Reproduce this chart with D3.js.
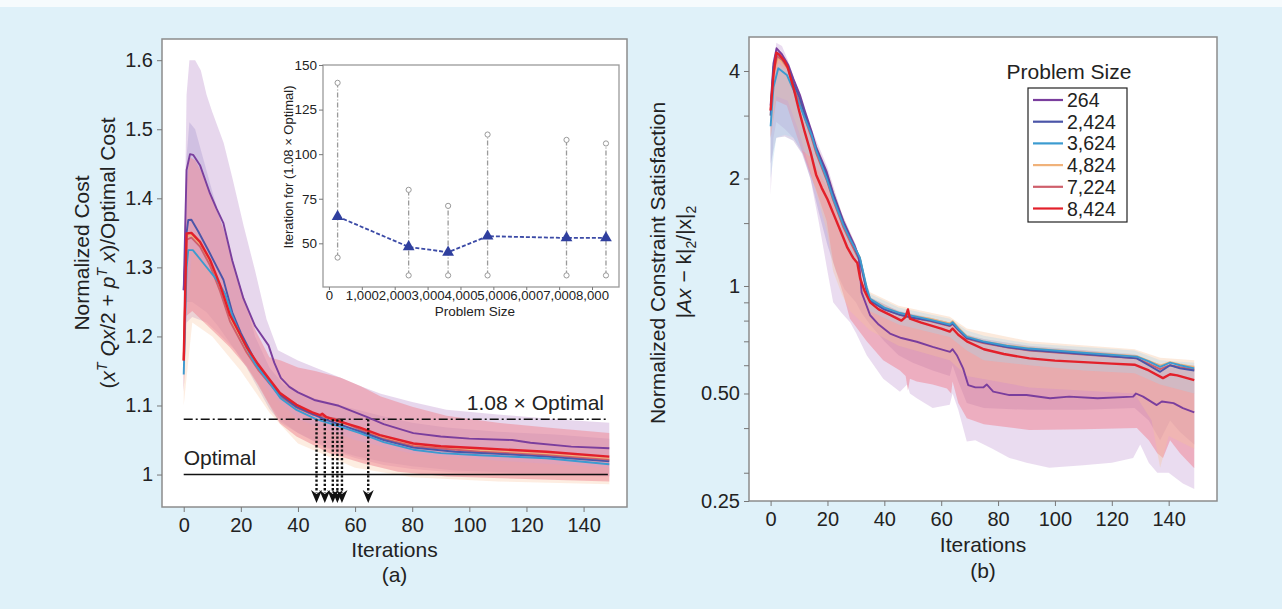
<!DOCTYPE html>
<html><head><meta charset="utf-8">
<script src="https://cdn.jsdelivr.net/npm/d3@7"></script>
<style>body{margin:0;background:#dff1f9;} svg{display:block;font-family:"Liberation Sans",Arial,Helvetica,sans-serif;}</style>
</head><body><svg id="c" width="1282" height="609"></svg>
<script>
// ---------- DATA ----------
const sizeLabels = ["264","2,424","3,624","4,824","7,224","8,424"];
const sizeValues = [264,2424,3624,4824,7224,8424];
const seriesColors = ["#7a3e9d","#4b55a8","#3c9bd0","#f0b27a","#cf5f6b","#e3202a"];

const iterTicks = [0,20,40,60,80,100,120,140];
const costTicks = [1,1.1,1.2,1.3,1.4,1.5,1.6];
const consTicks = [0.25,0.5,1,2,4];
const consTickLabels = ["0.25","0.50","1","2","4"];
const consMinorTicks = [3,1.5,0.9,0.8,0.7,0.6,0.4,0.3];
const optimalLevel = 1.0;
const thresholdLevel = 1.08;
const crossIters = [46.5,49.4,52.2,53.8,55.4,64.6];

// inset
const insetMean = [65,48,45,54,53,53];
const insetMax = [140,80,71,111,108,106];
const insetMin = [42,32,32,32,32,32];
const insetXTicks = [0,1000,2000,3000,4000,5000,6000,7000,8000];
const insetYTicks = [50,75,100,125,150];

// (a) normalized cost means [iteration, value]
const cost264 = [[0,1.267],[1,1.441],[2.2,1.464],[3.3,1.463],[5.7,1.448],[9.2,1.407],[11.5,1.385],[13.9,1.364],[17,1.31],[20.9,1.255],[25,1.215],[29.7,1.187],[31.7,1.162],[34,1.14],[37,1.127],[40,1.119],[45.7,1.108],[54.3,1.0996],[64.3,1.083],[70,1.073],[80.4,1.06],[90,1.055],[100,1.052],[115,1.05],[121.4,1.046],[135.7,1.0405],[149,1.038]];
const cost2424 = [[0,1.267],[1,1.35],[1.6,1.3686],[2.7,1.369],[5.1,1.352],[9.2,1.32],[13.9,1.282],[17,1.235],[20,1.205],[25,1.165],[30,1.133],[34,1.115],[39.5,1.098],[45,1.088],[49.4,1.08],[55,1.072],[62,1.062],[70,1.05],[80.4,1.039],[95,1.033],[110,1.03],[127,1.026],[149,1.019]];
const cost3624 = [[0,1.145],[1,1.30],[1.6,1.325],[3.2,1.325],[6.9,1.306],[11.6,1.282],[14.5,1.262],[17,1.23],[20,1.2],[25,1.16],[30.2,1.132],[34,1.11],[39.5,1.0935],[46.5,1.08],[52,1.073],[61.7,1.06],[70,1.047],[80.4,1.036],[90,1.031],[103.7,1.028],[127,1.0236],[149,1.015]];
const cost4824 = [[0,1.165],[1,1.345],[2.7,1.347],[5.7,1.333],[9.2,1.307],[12.7,1.27],[16.2,1.226],[22,1.18],[26,1.155],[30.2,1.134],[33.7,1.115],[39.5,1.099],[45,1.088],[52,1.08],[61.7,1.066],[68.7,1.054],[80.4,1.042],[103.7,1.035],[127,1.03],[149,1.023]];
const cost7224 = [[0,1.165],[1,1.34],[2.7,1.343],[5.7,1.33],[9.2,1.303],[12.7,1.266],[16.2,1.222],[22,1.177],[26,1.152],[30.2,1.131],[33.7,1.113],[39.5,1.097],[45,1.087],[53.8,1.08],[61.7,1.065],[68.7,1.053],[80.4,1.041],[103.7,1.033],[127,1.028],[149,1.021]];
const cost8424 = [[0,1.165],[1,1.349],[2.7,1.35],[5.7,1.337],[9.2,1.311],[12.7,1.275],[16.2,1.231],[22,1.185],[26,1.16],[30.2,1.137],[33.7,1.118],[39.5,1.101],[45,1.09],[47.7,1.086],[48.5,1.088],[50,1.083],[54.7,1.0766],[61.7,1.068],[68.7,1.057],[80.4,1.045],[90,1.041],[103.7,1.038],[127,1.033],[149,1.026]];

// (a) bands
const costBand264Upper = [[0,1.27],[1,1.55],[2,1.60],[4,1.60],[6,1.585],[8,1.55],[10,1.525],[14,1.48],[17,1.43],[21,1.36],[25,1.295],[29,1.225],[33,1.18],[40,1.165],[46,1.155],[55,1.14],[62,1.128],[69,1.117],[80,1.105],[92,1.094],[110,1.087],[130,1.08],[149,1.075]];
const costBand264Lower = [[0,1.12],[1,1.22],[3,1.228],[8,1.22],[12,1.205],[18,1.18],[22,1.158],[26,1.132],[30,1.102],[34,1.078],[40,1.06],[50,1.038],[60,1.024],[70,1.014],[80,1.008],[95,1.003],[120,1.0],[149,0.997]];
const costBand2424Upper = [[0,1.27],[1,1.46],[2,1.51],[4,1.50],[6,1.47],[10,1.41],[14,1.355],[17,1.31],[20,1.27],[25,1.2],[30,1.155],[35,1.13],[40,1.12],[46,1.11],[55,1.1],[69,1.085],[80,1.075],[92,1.068],[110,1.062],[130,1.058],[149,1.052]];
const costBand2424Lower = [[0,1.2],[1,1.25],[3,1.25],[8,1.235],[12,1.215],[18,1.18],[22,1.155],[26,1.125],[30,1.095],[34,1.075],[40,1.06],[50,1.04],[60,1.027],[70,1.018],[80,1.012],[95,1.006],[120,1.002],[149,0.998]];
const costBand8424Upper = [[0,1.17],[1,1.42],[2,1.46],[4,1.455],[6,1.44],[10,1.40],[14,1.355],[20,1.27],[25,1.21],[30,1.17],[34,1.165],[40,1.155],[46,1.15],[55,1.14],[62,1.128],[69,1.113],[80,1.098],[92,1.085],[110,1.075],[130,1.067],[149,1.06]];
const costBand8424Lower = [[0,1.12],[1,1.23],[3,1.237],[10,1.209],[16,1.185],[22,1.156],[26,1.13],[29,1.108],[33.7,1.074],[39.5,1.055],[51,1.031],[63,1.016],[75,1.004],[92,0.997],[149,0.99]];
const costBand4824Upper = [[0,1.16],[3,1.33],[10,1.29],[20,1.19],[30,1.12],[40,1.08],[60,1.05],[80,1.03],[110,1.02],[149,1.01]];
const costBand4824Lower = [[0,1.10],[3,1.22],[10,1.20],[20,1.15],[30,1.09],[40,1.045],[60,1.01],[80,0.996],[110,0.99],[149,0.986]];

// (b) constraint satisfaction means
const cons264 = [[0,3.2],[1,4.2],[2.1,4.63],[4,4.45],[6.2,4.16],[8,3.8],[10.3,3.43],[12,3.1],[14.4,2.71],[16,2.45],[19.7,2.09],[22,1.82],[25.6,1.52],[28,1.38],[29.5,1.3],[30.3,1.25],[31,1.2],[32,0.96],[35,0.828],[38,0.78],[42,0.736],[46,0.715],[51.4,0.698],[57,0.675],[63.1,0.654],[64,0.665],[65.5,0.64],[67.7,0.588],[69.5,0.528],[72,0.52],[74.8,0.52],[76,0.53],[78.3,0.506],[84,0.495],[90,0.495],[98.3,0.485],[105,0.49],[115,0.485],[127.5,0.49],[128.5,0.5],[131,0.49],[135.8,0.464],[137.6,0.475],[141.7,0.47],[145,0.455],[149,0.443]];
const cons2424 = [[0,3.0],[1,4.1],[2.3,4.5],[4,4.35],[6.2,4.1],[8,3.7],[10.3,3.35],[12,3.02],[14.4,2.66],[16,2.42],[19.7,2.05],[22,1.8],[25.6,1.5],[28,1.36],[30.3,1.24],[31.4,1.19],[33.8,0.97],[35,0.91],[40,0.86],[45.5,0.83],[50,0.815],[56,0.8],[63,0.775],[64,0.785],[66,0.755],[69,0.715],[74.8,0.695],[83,0.675],[91,0.662],[110,0.645],[128.8,0.627],[133,0.6],[137,0.575],[140.5,0.6],[144,0.588],[149,0.58]];
const cons3624 = [[0,2.8],[1,3.6],[2.7,4.07],[5.7,3.9],[8,3.55],[10.3,3.2],[12,2.95],[14.4,2.65],[16,2.4],[19.7,2.0],[22,1.76],[25.6,1.48],[28,1.35],[30.3,1.25],[31.4,1.2],[33.8,0.99],[35,0.92],[40,0.87],[45.5,0.84],[50,0.825],[56,0.805],[63,0.78],[64,0.792],[66,0.76],[69,0.72],[74.8,0.70],[83,0.68],[91,0.668],[110,0.65],[128.8,0.634],[133,0.615],[137,0.594],[140.5,0.61],[144,0.6],[149,0.588]];
const cons4824 = [[0,3.0],[1,3.9],[2.5,4.35],[4,4.25],[6.2,4.05],[8,3.65],[10.3,3.3],[12,3.0],[14.4,2.66],[16,2.42],[19.7,2.04],[22,1.79],[25.6,1.5],[28,1.36],[30.3,1.25],[31.4,1.2],[33.8,0.98],[35,0.92],[40,0.87],[45.5,0.84],[50,0.825],[56,0.81],[63,0.785],[64,0.797],[66,0.765],[69,0.722],[74.8,0.70],[83,0.682],[91,0.67],[110,0.652],[128.8,0.636],[133,0.617],[137,0.598],[140.5,0.612],[144,0.603],[149,0.592]];
const cons7224 = [[0,3.1],[1,3.95],[2.3,4.4],[4,4.3],[6.2,4.05],[8,3.6],[10.3,3.25],[12,2.95],[14.4,2.6],[16,2.36],[19.7,1.98],[22,1.74],[25.6,1.46],[28,1.33],[30.3,1.22],[31.4,1.17],[33.8,0.97],[35,0.91],[40,0.86],[45.5,0.83],[50,0.815],[56,0.798],[63,0.772],[64,0.783],[66,0.752],[69,0.712],[74.8,0.692],[83,0.673],[91,0.66],[110,0.643],[128.8,0.627],[133,0.605],[137,0.585],[140.5,0.6],[144,0.592],[149,0.583]];
const cons8424 = [[0,3.1],[1,3.9],[2,4.5],[3,4.45],[5,4.25],[6,4.1],[8,3.6],[10,3.1],[12,2.7],[14,2.38],[16,2.05],[18,1.88],[20,1.75],[22,1.6],[25,1.4],[27,1.28],[29,1.2],[30.5,1.16],[31.5,1.05],[33,0.97],[35,0.9],[38,0.86],[42,0.83],[46,0.80],[47.5,0.82],[48.3,0.86],[49,0.81],[53,0.79],[60,0.76],[63,0.745],[64,0.76],[66,0.73],[69,0.70],[75,0.665],[82,0.645],[91,0.627],[100,0.618],[110,0.612],[120,0.606],[128,0.602],[133,0.58],[138,0.552],[140.5,0.566],[143,0.562],[149,0.545]];

// (b) bands
const consBand264Upper = [[0,3.5],[2,4.8],[4,4.7],[6,4.3],[10,3.5],[14,2.8],[20,2.15],[25,1.6],[30,1.3],[32,1.1],[35,0.92],[40,0.88],[46,0.85],[55,0.82],[63,0.79],[66,0.77],[69,0.73],[75,0.71],[90,0.68],[110,0.66],[128,0.64],[135,0.61],[140,0.6],[149,0.59]];
const consBand264Lower = [[0,1.8],[1,2.6],[2,2.88],[5,2.75],[8,2.6],[11.4,2.34],[14,2.0],[17,1.5],[20,1.1],[22,0.9],[25,0.84],[28,0.79],[30,0.74],[33.8,0.64],[39.6,0.55],[45.5,0.506],[48,0.53],[49,0.5],[51.4,0.485],[57,0.455],[63,0.465],[64,0.5],[66,0.45],[69,0.367],[72,0.37],[75,0.36],[78,0.35],[84,0.33],[90,0.32],[98,0.31],[110,0.315],[120,0.32],[127.5,0.33],[130,0.36],[133,0.32],[136,0.30],[140,0.3],[145,0.28],[149,0.27]];
const consBand2424Upper = [[0,3.0],[2,4.55],[4,4.4],[6.2,4.15],[10.3,3.4],[14.4,2.7],[19.7,2.08],[25.6,1.52],[30.3,1.26],[32,1.02],[35,0.93],[45,0.85],[63,0.79],[69,0.73],[75,0.71],[91,0.68],[128,0.645],[137,0.59],[149,0.59]];
const consBand2424Lower = [[0,2.2],[2,2.6],[5,2.62],[8,2.55],[11,2.35],[14,2.0],[17,1.6],[20,1.3],[23,1.1],[26,0.98],[30,0.9],[32,0.84],[35,0.78],[40,0.70],[45,0.64],[50,0.61],[57,0.58],[63,0.56],[64,0.6],[66,0.54],[69,0.47],[75,0.455],[91,0.45],[110,0.45],[128,0.455],[133,0.42],[137,0.37],[140.5,0.42],[144,0.39],[149,0.36]];
const consBand8424Upper = [[0,3.3],[2,4.6],[4,4.5],[6,4.25],[10,3.3],[14,2.6],[20,1.9],[25,1.5],[30,1.22],[32,1.0],[35,0.93],[45,0.85],[63,0.79],[69,0.73],[75,0.70],[91,0.67],[110,0.66],[128,0.64],[138,0.6],[149,0.6]];
const consBand8424Lower = [[0,2.6],[2,3.3],[5.7,3.2],[10.3,2.48],[16.2,1.84],[19.7,1.52],[22,1.17],[25.6,0.946],[27.9,0.81],[33.8,0.70],[39.6,0.62],[45.5,0.58],[47.5,0.56],[48.3,0.51],[49,0.55],[51.4,0.54],[57,0.53],[62,0.516],[63.5,0.50],[64,0.54],[66,0.47],[69,0.426],[75,0.41],[91,0.395],[110,0.397],[128.8,0.40],[133,0.37],[136,0.34],[138,0.33],[140.5,0.37],[144,0.34],[149,0.309]];
const consBand4824Upper = [[0,3.2],[2,4.5],[6,4.2],[10,3.4],[14,2.75],[20,2.1],[25,1.6],[30,1.3],[32,1.1],[35,0.96],[45,0.88],[63,0.82],[69,0.76],[91,0.70],[128,0.665],[137,0.63],[149,0.62]];
const consBand4824Lower = [[0,2.6],[2,3.4],[6,3.3],[10,2.7],[14,2.1],[18,1.6],[20,1.4],[22,1.1],[25,0.95],[28,0.85],[35,0.75],[45,0.68],[63,0.62],[69,0.56],[91,0.52],[128,0.5],[134,0.42],[137,0.31],[140,0.38],[149,0.35]];
const consBand3624Upper = [[0,3.0],[2.7,4.2],[6,4.0],[10.3,3.3],[14.4,2.72],[19.7,2.05],[25.6,1.52],[30,1.3],[33,1.05],[35,0.95],[45,0.87],[63,0.81],[69,0.75],[75,0.725],[91,0.69],[110,0.675],[128,0.66],[137,0.62],[149,0.61]];
const consBand3624Lower = [[0,2.0],[2,2.6],[5,2.65],[8,2.6],[11,2.4],[14,2.3],[19.7,1.9],[25.6,1.4],[30,1.15],[35,0.85],[45,0.78],[63,0.72],[69,0.66],[75,0.62],[91,0.6],[110,0.58],[128,0.57],[137,0.53],[149,0.5]];

// ---------- DRAW ----------
const svg = d3.select("#c");
svg.append("rect").attr("width",1282).attr("height",609).attr("fill","#dff1f9");
svg.append("rect").attr("width",1282).attr("height",7).attr("fill","#f6fbfd");

const FONT = "'Liberation Sans',Arial,Helvetica,sans-serif";
function band(g, x, y, up, lo, fill, op){
  const line = d3.line().x(d=>x(d[0])).y(d=>y(d[1]));
  g.append("path").attr("d", line(up.concat(lo.slice().reverse()))+"Z")
    .attr("fill",fill).attr("fill-opacity",op).attr("stroke","none");
}
function series(g, x, y, data, color, w){
  const line = d3.line().x(d=>x(d[0])).y(d=>y(d[1]));
  g.append("path").attr("d", line(data)).attr("fill","none")
    .attr("stroke",color).attr("stroke-width",w).attr("stroke-linejoin","round");
}
function styleAxis(g, fs){
  g.select(".domain").remove();
  g.selectAll(".tick line").attr("stroke","#777").attr("stroke-width",1);
  g.selectAll(".tick text").attr("fill","#222").style("font-size",fs+"px").style("font-family",FONT);
}

// ===== Panel (a) =====
const A = {x0:162,x1:627,y0:39,y1:507};
const xA = d3.scaleLinear().domain([-7.6,155.2]).range([A.x0,A.x1]);
const yA = d3.scaleLinear().domain([0.953,1.6307]).range([A.y1,A.y0]);
svg.append("rect").attr("x",A.x0).attr("y",A.y0).attr("width",A.x1-A.x0).attr("height",A.y1-A.y0)
  .attr("fill","#fff").attr("stroke","#8c8c8c").attr("stroke-width",1.5);
svg.append("clipPath").attr("id","clipA").append("rect").attr("x",A.x0).attr("y",A.y0).attr("width",A.x1-A.x0).attr("height",A.y1-A.y0);
const gA = svg.append("g").attr("clip-path","url(#clipA)");
band(gA,xA,yA,costBand264Upper,costBand264Lower,"#d7bde1",0.6);
band(gA,xA,yA,costBand2424Upper,costBand2424Lower,"#b09ed2",0.4);
band(gA,xA,yA,costBand4824Upper,costBand4824Lower,"#f8c39c",0.3);
band(gA,xA,yA,costBand8424Upper,costBand8424Lower,"#f0848f",0.5);

// reference lines
gA.append("line").attr("x1",xA(0)).attr("x2",xA(148.5)).attr("y1",yA(thresholdLevel)).attr("y2",yA(thresholdLevel))
  .attr("stroke","#111").attr("stroke-width",1.5).attr("stroke-dasharray","9,3,2,3");
gA.append("line").attr("x1",xA(0)).attr("x2",xA(148.5)).attr("y1",yA(optimalLevel)).attr("y2",yA(optimalLevel))
  .attr("stroke","#111").attr("stroke-width",1.6);

const costSeries = [cost4824,cost7224,cost2424,cost3624,cost264,cost8424];
const costColors = [seriesColors[3],seriesColors[4],seriesColors[1],seriesColors[2],seriesColors[0],seriesColors[5]];
costSeries.forEach((s,i)=>series(gA,xA,yA,s,costColors[i], i===5?2.4:1.9));

// arrows
crossIters.forEach(c=>{
  const x = xA(c);
  gA.append("line").attr("x1",x).attr("x2",x).attr("y1",yA(thresholdLevel)).attr("y2",493)
    .attr("stroke","#111").attr("stroke-width",2.4).attr("stroke-dasharray","2.3,2");
  gA.append("path").attr("d",`M${x},503 L${x-5.5},490 L${x},494 L${x+5.5},490 Z`).attr("fill","#111");
});

svg.append("text").attr("x",604).attr("y",410).attr("text-anchor","end").style("font-size","21px").attr("fill","#222").text("1.08 × Optimal");
svg.append("text").attr("x",xA(0)).attr("y",465).style("font-size","21px").attr("fill","#222").text("Optimal");

const axYA = svg.append("g").attr("transform",`translate(${A.x0},0)`)
  .call(d3.axisLeft(yA).tickValues(costTicks).tickFormat(d=>d===1?"1":d3.format(".1f")(d)).tickSize(5).tickPadding(4));
styleAxis(axYA,20);
const axXA = svg.append("g").attr("transform",`translate(0,${A.y1})`)
  .call(d3.axisBottom(xA).tickValues(iterTicks).tickSize(5).tickPadding(6));
styleAxis(axXA,20);

svg.append("text").attr("x",(A.x0+A.x1)/2).attr("y",557).attr("text-anchor","middle").style("font-size","21px").attr("fill","#222").text("Iterations");
svg.append("text").attr("x",(A.x0+A.x1)/2).attr("y",582).attr("text-anchor","middle").style("font-size","21px").attr("fill","#222").text("(a)");

svg.append("text").attr("transform","translate(89,253) rotate(-90)").attr("text-anchor","middle")
  .style("font-size","21px").attr("fill","#222").text("Normalized Cost");
const ytA2 = svg.append("text").attr("transform","translate(115,253) rotate(-90)").attr("text-anchor","middle")
  .style("font-size","21px").attr("fill","#222");
ytA2.append("tspan").text("(");
ytA2.append("tspan").style("font-style","italic").text("x");
ytA2.append("tspan").attr("dy",-8).style("font-size","14px").style("font-style","italic").text("T");
ytA2.append("tspan").attr("dy",8).text(" ");
ytA2.append("tspan").style("font-style","italic").text("Qx");
ytA2.append("tspan").text("/2 + ");
ytA2.append("tspan").style("font-style","italic").text("p");
ytA2.append("tspan").attr("dy",-8).style("font-size","14px").style("font-style","italic").text("T");
ytA2.append("tspan").attr("dy",8).text(" ");
ytA2.append("tspan").style("font-style","italic").text("x");
ytA2.append("tspan").text(")/Optimal Cost");

// ----- inset -----
const I = {x0:323,x1:619,y0:65,y1:287};
const xI = d3.scaleLinear().domain([-180,8820]).range([I.x0,I.x1]);
const yI = d3.scaleLinear().domain([25.5,150]).range([I.y1,I.y0]);
svg.append("rect").attr("x",I.x0).attr("y",I.y0).attr("width",I.x1-I.x0).attr("height",I.y1-I.y0)
  .attr("fill","#fff").attr("stroke","#9a9a9a").attr("stroke-width",1.3);
sizeValues.forEach((s,i)=>{
  svg.append("line").attr("x1",xI(s)).attr("x2",xI(s)).attr("y1",yI(insetMin[i])).attr("y2",yI(insetMax[i]))
    .attr("stroke","#9a9a9a").attr("stroke-width",1.3).attr("stroke-dasharray","5,2,1,2");
  [insetMin[i],insetMax[i]].forEach(v=>svg.append("circle").attr("cx",xI(s)).attr("cy",yI(v)).attr("r",2.6)
    .attr("fill","#fff").attr("stroke","#999").attr("stroke-width",1));
});
const insetPts = sizeValues.map((s,i)=>[s,insetMean[i]]);
svg.append("path").attr("d",d3.line().x(d=>xI(d[0])).y(d=>yI(d[1]))(insetPts)).attr("fill","none")
  .attr("stroke","#3b4aa6").attr("stroke-width",1.8).attr("stroke-dasharray","4,2");
svg.selectAll(".tri").data(insetPts).enter().append("path")
  .attr("d",d3.symbol(d3.symbolTriangle).size(60)).attr("transform",d=>`translate(${xI(d[0])},${yI(d[1])})`).attr("fill","#2f3f9e");
const axYI = svg.append("g").attr("transform",`translate(${I.x0},0)`)
  .call(d3.axisLeft(yI).tickValues(insetYTicks).tickSize(4).tickPadding(2));
styleAxis(axYI,13.5);
const axXI = svg.append("g").attr("transform",`translate(0,${I.y1})`)
  .call(d3.axisBottom(xI).tickValues(insetXTicks).tickFormat(d3.format(",")).tickSize(3).tickPadding(1));
styleAxis(axXI,13.2);
svg.append("text").attr("x",(I.x0+I.x1)/2+4).attr("y",316).attr("text-anchor","middle").style("font-size","13.5px").attr("fill","#222").text("Problem Size");
svg.append("text").attr("transform","translate(293,167) rotate(-90)").attr("text-anchor","middle")
  .style("font-size","13px").attr("fill","#222").text("Iteration for (1.08 × Optimal)");

// ===== Panel (b) =====
const B = {x0:749,x1:1217,y0:37,y1:501};
const xB = d3.scaleLinear().domain([-7.6,157]).range([B.x0,B.x1]);
const yB = d3.scaleLog().base(2).domain([0.25,4.98]).range([B.y1,B.y0]);
svg.append("rect").attr("x",B.x0).attr("y",B.y0).attr("width",B.x1-B.x0).attr("height",B.y1-B.y0)
  .attr("fill","#fff").attr("stroke","#8c8c8c").attr("stroke-width",1.5);
svg.append("clipPath").attr("id","clipB").append("rect").attr("x",B.x0).attr("y",B.y0).attr("width",B.x1-B.x0).attr("height",B.y1-B.y0);
const gB = svg.append("g").attr("clip-path","url(#clipB)");
band(gB,xB,yB,consBand264Upper,consBand264Lower,"#dcc5e6",0.6);
band(gB,xB,yB,consBand2424Upper,consBand2424Lower,"#9a86c0",0.32);
band(gB,xB,yB,consBand8424Upper,consBand8424Lower,"#f07c8c",0.48);
band(gB,xB,yB,consBand4824Upper,consBand4824Lower,"#f6c49a",0.35);
band(gB,xB,yB,consBand3624Upper,consBand3624Lower,"#a8d4ec",0.35);

const consSeries = [cons4824,cons7224,cons264,cons2424,cons3624,cons8424];
const consColors = [seriesColors[3],seriesColors[4],seriesColors[0],seriesColors[1],seriesColors[2],seriesColors[5]];
consSeries.forEach((s,i)=>series(gB,xB,yB,s,consColors[i], i===5?2.4:1.9));

const axYB = svg.append("g").attr("transform",`translate(${B.x0},0)`)
  .call(d3.axisLeft(yB).tickValues(consTicks).tickFormat((d,i)=>consTickLabels[i]).tickSize(5).tickPadding(4));
styleAxis(axYB,20);
const axYBm = svg.append("g").attr("transform",`translate(${B.x0},0)`)
  .call(d3.axisLeft(yB).tickValues(consMinorTicks).tickFormat("").tickSize(5));
styleAxis(axYBm,20);
const axXB = svg.append("g").attr("transform",`translate(0,${B.y1})`)
  .call(d3.axisBottom(xB).tickValues(iterTicks).tickSize(5).tickPadding(6));
styleAxis(axXB,20);

svg.append("text").attr("x",(B.x0+B.x1)/2).attr("y",552).attr("text-anchor","middle").style("font-size","21px").attr("fill","#222").text("Iterations");
svg.append("text").attr("x",(B.x0+B.x1)/2).attr("y",578).attr("text-anchor","middle").style("font-size","21px").attr("fill","#222").text("(b)");

svg.append("text").attr("transform","translate(665,263) rotate(-90)").attr("text-anchor","middle")
  .style("font-size","21px").attr("fill","#222").text("Normalized Constraint Satisfaction");
const ytB2 = svg.append("text").attr("transform","translate(691,262) rotate(-90)").attr("text-anchor","middle")
  .style("font-size","21px").attr("fill","#222");
ytB2.append("tspan").text("|");
ytB2.append("tspan").style("font-style","italic").text("Ax");
ytB2.append("tspan").text(" − k|");
ytB2.append("tspan").attr("dy",5).style("font-size","14px").text("2");
ytB2.append("tspan").attr("dy",-5).text("/|x|");
ytB2.append("tspan").attr("dy",5).style("font-size","14px").text("2");

// legend
svg.append("text").attr("x",1069).attr("y",79).attr("text-anchor","middle").style("font-size","21px").attr("fill","#222").text("Problem Size");
svg.append("rect").attr("x",1028).attr("y",88).attr("width",99).attr("height",134).attr("fill","#fff").attr("stroke","#222").attr("stroke-width",1.2);
sizeLabels.forEach((lab,i)=>{
  const yy = 100 + i*21.7;
  svg.append("line").attr("x1",1033).attr("x2",1063).attr("y1",yy).attr("y2",yy).attr("stroke",seriesColors[i]).attr("stroke-width",2.2);
  svg.append("text").attr("x",1067).attr("y",yy+7).style("font-size","19.5px").attr("fill","#222").text(lab);
});
</script></body></html>
